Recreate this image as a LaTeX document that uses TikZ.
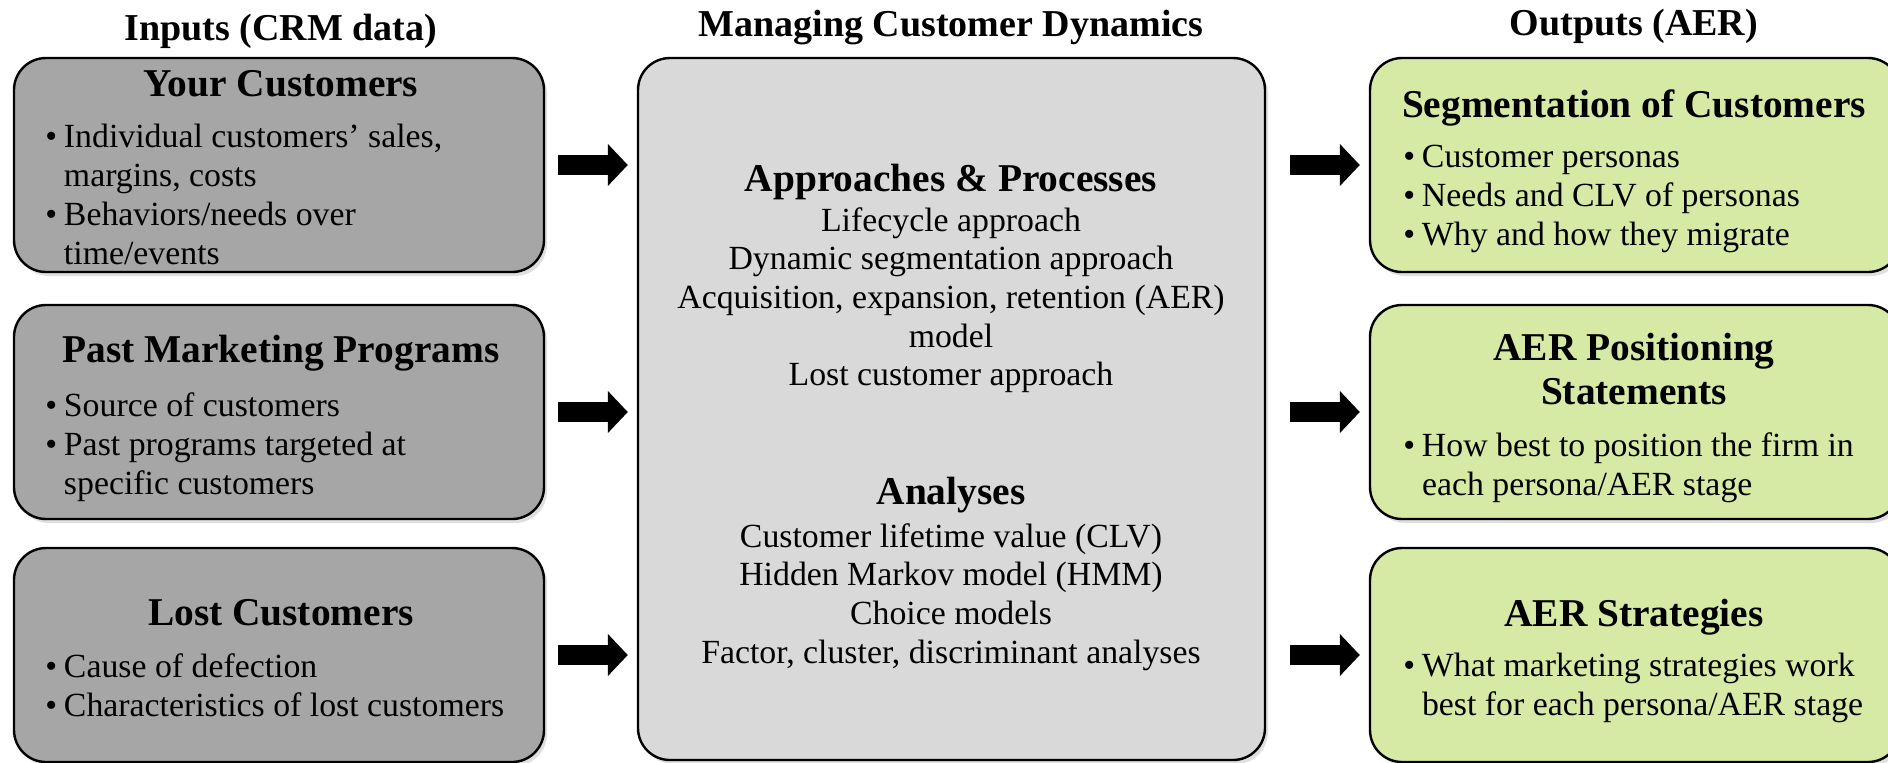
\documentclass[tikz,border=0pt]{standalone}
\usepackage{fontspec}
\setmainfont{Liberation Serif}
\usetikzlibrary{positioning,arrows.meta,shadows}
\definecolor{cdDark}{RGB}{166,166,166}
\definecolor{cdLight}{RGB}{217,217,217}
\definecolor{cdGreen}{RGB}{215,234,165}
% bullet and continuation indent for the lists
\newcommand{\bitem}{\makebox[0.55em][l]{\textbullet}}
\newcommand{\bcont}{\hspace*{0.55em}}
\tikzset{
    box/.style={rectangle, rounded corners=16pt, draw=black, line width=1.2pt,
                minimum width=265pt, minimum height=107pt,
                drop shadow={opacity=0.25, shadow xshift=1.5pt, shadow yshift=-2pt}},
    inbox/.style={box, fill=cdDark},
    corebox/.style={box, fill=cdLight, minimum width=313.5pt, minimum height=351pt},
    outbox/.style={box, fill=cdGreen},
    coltitle/.style={font=\fontsize{19}{22}\selectfont\bfseries},
    boxhead/.style={font=\fontsize{19.7}{22}\selectfont\bfseries, align=center},
    bullets/.style={font=\fontsize{16.9}{19.5}\selectfont, align=left,
                    anchor=north west, inner sep=0pt},
    lines/.style={font=\fontsize{16.9}{19.3}\selectfont, align=center,
                  anchor=north, inner sep=0pt},
    flow/.style={-{Triangle[length=10pt,width=20.5pt]}, line width=10pt}
}

\begin{document}
\begin{tikzpicture}[x=0.5pt, y=-0.5pt]
  \clip (0,0) rectangle (1888,762);

  % column titles
  \node[coltitle] (tin) at (281,31) {Inputs (CRM data)};
  \node[coltitle] (tcore) at (951,28) {Managing Customer Dynamics};
  \node[coltitle] (tout) at (1634,26) {Outputs (AER)};

  % Inputs
  \node[inbox] (in1) at (279,165) {};
  \node[inbox] (in2) at (279,412) {};
  \node[inbox] (in3) at (279,655) {};
  \node[boxhead] (h1) at (281,84) {Your Customers};
  \node[bullets] (b1) at (45,124) {\bitem Individual customers' sales,\\
    \bcont margins, costs\\ \bitem Behaviors/needs over\\ \bcont time/events};
  \node[boxhead] (h2) at (281,353) {Past Marketing Programs};
  \node[bullets] (b2) at (45,392) {\bitem Source of customers\\
    \bitem Past programs targeted at\\ \bcont specific customers};
  \node[boxhead] (h3) at (281,613) {Lost Customers};
  \node[bullets] (b3) at (45,653) {\bitem Cause of defection\\
    \bitem Characteristics of lost customers};

  % Managing customer dynamics
  \node[corebox] (core) at (951.5,409) {};
  \node[boxhead] (hap) at (951,182) {Approaches \& Processes};
  \node[lines] (lap) at (951,207) {Lifecycle approach\\ Dynamic segmentation approach\\
    Acquisition, expansion, retention (AER)\\ model\\ Lost customer approach};
  \node[boxhead] (han) at (951,495) {Analyses};
  \node[lines] (lan) at (951,523) {Customer lifetime value (CLV)\\
    Hidden Markov model (HMM)\\ Choice models\\ Factor, cluster, discriminant analyses};

  % Outputs
  \node[outbox] (out1) at (1635,165) {};
  \node[outbox] (out2) at (1635,412) {};
  \node[outbox] (out3) at (1635,655) {};
  \node[boxhead] (g1) at (1634,108) {Segmentation of Customers};
  \node[bullets] (c1) at (1403,145) {\bitem Customer personas\\
    \bitem Needs and CLV of personas\\ \bitem Why and how they migrate};
  \node[boxhead] (g2) at (1634,369) {AER Positioning\\ Statements};
  \node[bullets] (c2) at (1403,432) {\bitem How best to position the firm in\\
    \bcont each persona/AER stage};
  \node[boxhead] (g3) at (1634,617) {AER Strategies};
  \node[bullets] (c3) at (1403,653) {\bitem What marketing strategies work\\
    \bcont best for each persona/AER stage};

  % block arrows
  \foreach \n in {1,2,3} {
    \draw[flow, shorten <=6.5pt, shorten >=4.5pt] (in\n) -- (core.west |- in\n);
    \draw[flow, shorten <=12pt, shorten >=4.5pt] (core.east |- out\n) -- (out\n);
  }
\end{tikzpicture}
\end{document}
